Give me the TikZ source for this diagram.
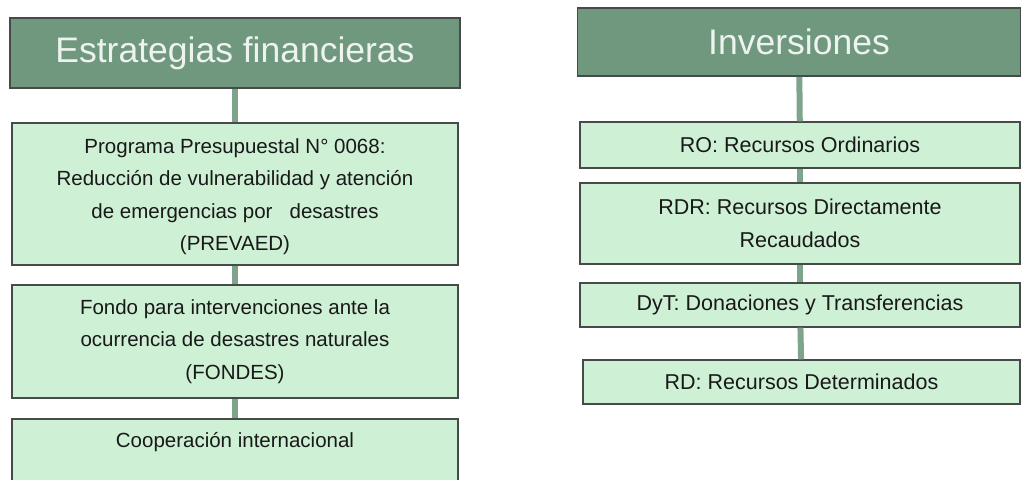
\documentclass[tikz,border=0pt]{standalone}
\usepackage{fontspec}
\setmainfont{Liberation Sans}
\definecolor{salvia}{RGB}{111,152,126}
\definecolor{menta}{RGB}{206,240,212}
\definecolor{linea}{RGB}{126,165,140}
\definecolor{borde}{RGB}{70,74,72}
\begin{document}
\begin{tikzpicture}[x=1pt,y=-1pt,
    titolo/.style={draw=borde,line width=1.6pt,fill=salvia,text=white!88!salvia,
      font=\fontsize{35.5}{40}\selectfont,inner sep=0pt,minimum width=#1,minimum height=70},
    voce/.style={draw=borde,line width=1.4pt,fill=menta,text=black!90,align=center,
      font=\fontsize{20.5}{32.5}\selectfont,inner sep=0pt,minimum width=#1},
    conn/.style={draw=linea,line width=6pt}]
    \useasboundingbox (0,0) rectangle (1022,479);
    % colonna sinistra
    \node[titolo=450] (est) at (235,53) {Estrategias financieras};
    \node[voce=446,minimum height=142] (prev) at (235,194)
      {\\[-12pt]Programa Presupuestal N° 0068:\\Reducción de vulnerabilidad y atención\\de emergencias por \ \ desastres\\(PREVAED)};
    \node[voce=446,minimum height=113] (fond) at (235,341.5)
      {Fondo para intervenciones ante la\\ocurrencia de desastres naturales\\(FONDES)};
    \node[voce=446,minimum height=84] (coop) at (235,461)
      {Cooperación internacional\\\strut};
    \draw[conn] (est) -- (prev);
    \draw[conn] (prev) -- (fond);
    \draw[conn] (fond) -- (coop);
    % colonna destra
    \node[titolo=443,minimum height=68] (inv) at (799,42) {Inversiones};
    \node[voce=440,minimum height=46,font=\fontsize{21.5}{33}\selectfont] (ro) at (800,145) {RO: Recursos Ordinarios};
    \node[voce=440,minimum height=81,font=\fontsize{21.5}{33}\selectfont] (rdr) at (800,223.5)
      {RDR: Recursos Directamente\\Recaudados};
    \node[voce=440,minimum height=44,font=\fontsize{21.5}{33}\selectfont] (dyt) at (800,305) {DyT: Donaciones y Transferencias};
    \node[voce=437,minimum height=44,font=\fontsize{21.5}{33}\selectfont] (rd) at (801.5,382) {RD: Recursos Determinados};
    \draw[conn] (inv) -- (ro);
    \draw[conn] (ro) -- (rdr);
    \draw[conn] (rdr) -- (dyt);
    \draw[conn] (dyt) -- (rd);
  \end{tikzpicture}
\end{document}
